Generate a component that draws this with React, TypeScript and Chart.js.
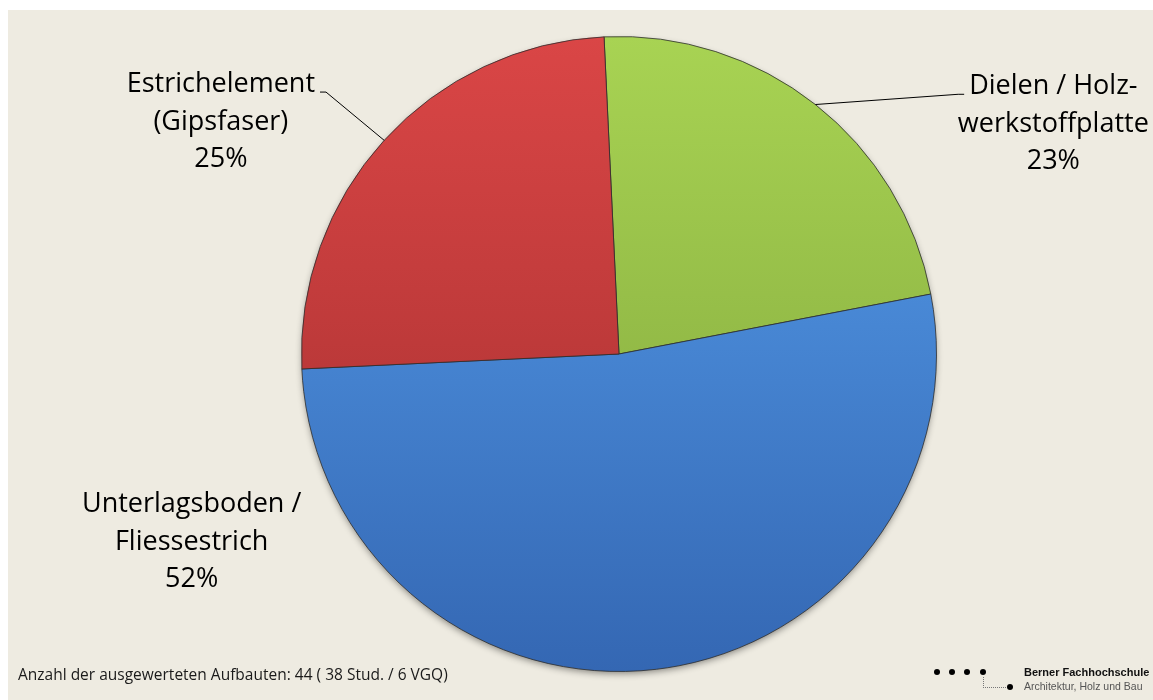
import React, { useEffect, useRef } from "react";
import { Chart, registerables } from "chart.js";

Chart.register(...registerables);

// ---- data ----
const categories = [
  "Dielen / Holzwerkstoffplatte",
  "Unterlagsboden / Fliessestrich",
  "Estrichelement (Gipsfaser)",
];
const categoryLines = [
  ["Dielen / Holz-", "werkstoffplatte"],
  ["Unterlagsboden /", "Fliessestrich"],
  ["Estrichelement", "(Gipsfaser)"],
];
const counts = [10, 23, 11];
const footnoteText = "Anzahl der ausgewerteten Aufbauten: 44 ( 38 Stud. / 6 VGQ)";
const logoTitle = "Berner Fachhochschule";
const logoSubtitle = "Architektur, Holz und Bau";

// ---- styles / layout ----
const GRADIENTS = [
  ["#a8d353", "#7ea23a"],
  ["#57a0ee", "#3467b3"],
  ["#da4646", "#a02d2d"],
];
const LABEL_LAYOUT = [
  { dx: 1.368, dy: -0.818, leader: "left" },
  { dx: -1.346, dy: 0.499, leader: "" },
  { dx: -1.254, dy: -0.825, leader: "right" },
];
const LABEL_FONT = "27px 'Open Sans', 'Noto Sans', sans-serif";
const LINE_H = 37.5;

const shadowPlugin = {
  id: "pieShadow",
  beforeDatasetsDraw(chart: any) {
    const arc = chart.getDatasetMeta(0).data[0];
    if (!arc) return;
    const { x, y, outerRadius } = arc.getProps(["x", "y", "outerRadius"], true);
    const ctx = chart.ctx;
    ctx.save();
    ctx.shadowColor = "rgba(0,0,0,0.45)";
    ctx.shadowBlur = 7;
    ctx.shadowOffsetY = 3;
    ctx.fillStyle = "#555";
    ctx.beginPath();
    ctx.arc(x, y, outerRadius - 1, 0, Math.PI * 2);
    ctx.fill();
    ctx.restore();
  },
};

const labelPlugin = {
  id: "outerLabels",
  afterDatasetsDraw(chart: any) {
    const meta = chart.getDatasetMeta(0);
    const ctx = chart.ctx;
    const values: number[] = chart.data.datasets[0].data;
    const total = values.reduce((a, b) => a + b, 0);
    ctx.save();
    ctx.font = LABEL_FONT;
    ctx.fillStyle = "#000";
    ctx.textAlign = "center";
    ctx.textBaseline = "alphabetic";
    meta.data.forEach((arc: any, i: number) => {
      const { x, y, startAngle, endAngle, outerRadius } = arc.getProps(
        ["x", "y", "startAngle", "endAngle", "outerRadius"],
        true
      );
      const L = LABEL_LAYOUT[i];
      const cx = x + L.dx * outerRadius;
      const by = y + L.dy * outerRadius;
      const pct = Math.round((values[i] / total) * 100) + "%";
      const lines = [...categoryLines[i], pct];
      lines.forEach((t, k) => ctx.fillText(t, cx, by + k * LINE_H));
      if (L.leader) {
        const mid = (startAngle + endAngle) / 2;
        const ex = x + Math.cos(mid) * outerRadius;
        const ey = y + Math.sin(mid) * outerRadius;
        const w = ctx.measureText(lines[0]).width;
        const dir = L.leader === "right" ? 1 : -1;
        const tx = cx + dir * (w / 2 + 5);
        const ty = by;
        ctx.beginPath();
        ctx.strokeStyle = "#000";
        ctx.lineWidth = 1;
        ctx.moveTo(ex, ey);
        ctx.lineTo(tx + dir * 6, ty);
        ctx.lineTo(tx, ty);
        ctx.stroke();
      }
    });
    ctx.restore();
  },
};

function gradientFor(index: number) {
  return (c: any) => {
    const chart = c.chart;
    const area = chart.chartArea;
    const [top, bottom] = GRADIENTS[index % GRADIENTS.length];
    if (!area) return top;
    const g = chart.ctx.createLinearGradient(0, area.top, 0, area.bottom);
    g.addColorStop(0, top);
    g.addColorStop(1, bottom);
    return g;
  };
}

function PieChart() {
  const ref = useRef<HTMLCanvasElement | null>(null);
  useEffect(() => {
    if (!ref.current) return;
    const chart = new Chart(ref.current, {
      type: "pie",
      data: {
        labels: categories,
        datasets: [
          {
            data: counts,
            backgroundColor: (c: any) => gradientFor(c.dataIndex)(c),
            borderColor: "rgba(45,45,45,0.8)",
            borderWidth: 1,
          },
        ],
      },
      options: {
        animation: false,
        responsive: false,
        events: [],
        rotation: -2.7,
        layout: { padding: { top: 36, bottom: 28, left: 283, right: 198 } },
        plugins: {
          legend: { display: false },
          tooltip: { enabled: false },
        },
      },
      plugins: [shadowPlugin, labelPlugin],
    });
    return () => chart.destroy();
  }, []);
  return (
    <canvas
      ref={ref}
      width={1153}
      height={700}
      style={{ position: "absolute", left: 0, top: 0, width: 1153, height: 700 }}
    />
  );
}

const dot = (cx: number, cy: number) => (
  <div
    key={cx + "-" + cy}
    style={{
      position: "absolute",
      left: cx - 3,
      top: cy - 3,
      width: 6,
      height: 6,
      borderRadius: 3,
      background: "#000",
    }}
  />
);

export default function App() {
  return (
    <div
      style={{
        position: "fixed",
        left: 0,
        top: 0,
        width: 1153,
        height: 700,
        background: "#ffffff",
        overflow: "hidden",
      }}
    >
      <div
        style={{
          position: "absolute",
          left: 8,
          top: 10,
          right: 0,
          bottom: 0,
          background: "#eeebe1",
        }}
      />
      <PieChart />
      <div
        style={{
          position: "absolute",
          left: 18,
          top: 667,
          fontFamily: "'Open Sans', 'Noto Sans', sans-serif",
          fontSize: 15.5,
          lineHeight: "15px",
          color: "#1a1a1a",
          whiteSpace: "nowrap",
        }}
      >
        {footnoteText}
      </div>
      {[937, 952, 967, 983].map((x) => dot(x, 672))}
      {dot(1010, 687)}
      <div
        style={{
          position: "absolute",
          left: 983,
          top: 677,
          width: 22,
          height: 10,
          borderLeft: "1px dotted #777",
          borderBottom: "1px dotted #777",
        }}
      />
      <div
        style={{
          position: "absolute",
          left: 1024,
          top: 665,
          fontFamily: "'Liberation Sans', Arial, sans-serif",
          fontSize: 11,
          lineHeight: "14px",
          whiteSpace: "nowrap",
        }}
      >
        <div style={{ fontWeight: "bold", color: "#111" }}>{logoTitle}</div>
        <div style={{ color: "#555", fontSize: 10.5 }}>{logoSubtitle}</div>
      </div>
    </div>
  );
}
